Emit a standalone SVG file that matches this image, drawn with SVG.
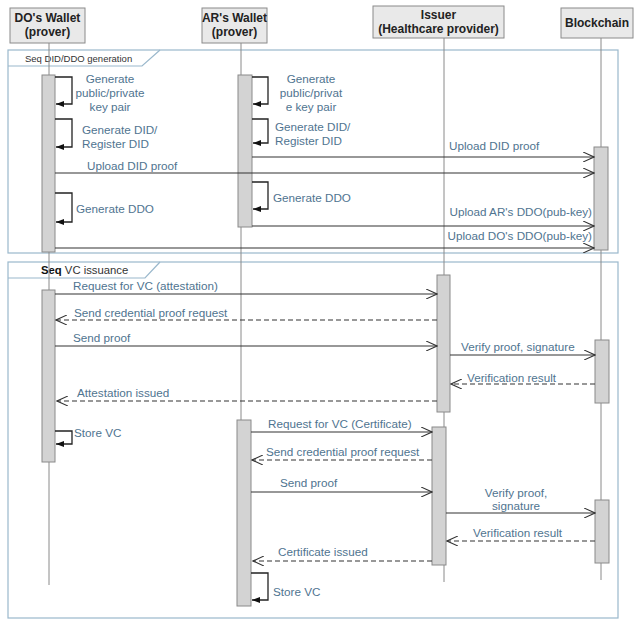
<svg xmlns="http://www.w3.org/2000/svg" width="636" height="620" viewBox="0 0 636 620">
<defs>
<style>
.hdr{fill:#e9e9e9;stroke:#8a8a8a;stroke-width:1}
.ht{font-family:"Liberation Sans",Arial,sans-serif;font-size:12px;font-weight:bold;fill:#222;text-anchor:middle}
.life{stroke:#8a8a8a;stroke-width:1}
.bar{fill:#d3d3d3;stroke:#8a8a8a;stroke-width:1}
.frame{fill:none;stroke:#9ab8cc;stroke-width:1.2}
.ft{font-family:"Liberation Sans",Arial,sans-serif;font-size:9.5px;fill:#333}
.ft2{font-family:"Liberation Sans",Arial,sans-serif;font-size:11.3px;fill:#333}
.m{font-family:"Liberation Sans",Arial,sans-serif;font-size:11.7px;fill:#4f7490}
.mc{font-family:"Liberation Sans",Arial,sans-serif;font-size:11.7px;fill:#4f7490;text-anchor:middle}
.me{font-family:"Liberation Sans",Arial,sans-serif;font-size:11.7px;fill:#4f7490;text-anchor:end}
.sync{stroke:#333;stroke-width:1.1;fill:none;marker-end:url(#open)}
.ret{stroke:#333;stroke-width:1.1;fill:none;stroke-dasharray:5,3;marker-end:url(#open)}
.self{stroke:#222;stroke-width:1.3;fill:none;marker-end:url(#fill)}
</style>
<marker id="open" viewBox="0 0 12 10" refX="11" refY="5" markerWidth="12" markerHeight="10" markerUnits="userSpaceOnUse" orient="auto">
<path d="M0,0 L11,5 L0,10" fill="none" stroke="#333" stroke-width="1.1"/>
</marker>
<marker id="fill" viewBox="0 0 8 6" refX="8" refY="3" markerWidth="8" markerHeight="6" markerUnits="userSpaceOnUse" orient="auto">
<path d="M0,0 L8,3 L0,6 z" fill="#111"/>
</marker>
</defs>

<!-- frames -->
<g id="frame-did">
<rect class="frame" x="8" y="50" width="610" height="203"/>
<path class="frame" d="M8,66 L142,66 L160,50"/>
<text class="ft" x="25" y="62">Seq DID/DDO generation</text>
</g>
<g id="frame-vc">
<rect class="frame" x="8" y="262" width="610" height="356"/>
<path class="frame" d="M8,278 L145,278 L160,262"/>
<text class="ft2" x="41" y="274"><tspan font-weight="bold" fill="#111">Seq</tspan> VC issuance</text>
</g>

<!-- lifelines -->
<g id="lifelines">
<line class="life" x1="49" y1="43" x2="49" y2="585"/>
<line class="life" x1="241" y1="43" x2="241" y2="606"/>
<line class="life" x1="444" y1="38" x2="444" y2="582"/>
<line class="life" x1="601" y1="38" x2="601" y2="580"/>
</g>

<!-- participants -->
<g id="do-wallet">
<rect class="hdr" x="10" y="8" width="75" height="35"/>
<text class="ht" x="47.5" y="22">DO's Wallet</text>
<text class="ht" x="47.5" y="36">(prover)</text>
</g>
<g id="ar-wallet">
<rect class="hdr" x="202" y="8" width="65" height="35"/>
<text class="ht" x="234.5" y="22">AR's Wallet</text>
<text class="ht" x="234.5" y="36">(prover)</text>
</g>
<g id="issuer">
<rect class="hdr" x="373" y="6" width="131" height="32"/>
<text class="ht" x="438.5" y="19">Issuer</text>
<text class="ht" x="438.5" y="33">(Healthcare provider)</text>
</g>
<g id="blockchain">
<rect class="hdr" x="561" y="8" width="72" height="30"/>
<text class="ht" x="597" y="27">Blockchain</text>
</g>

<!-- activation bars -->
<g id="activations">
<rect class="bar" x="42" y="75" width="13" height="177"/>
<rect class="bar" x="238" y="75" width="14" height="152"/>
<rect class="bar" x="594" y="147" width="14" height="103"/>
<rect class="bar" x="42" y="290" width="13" height="172"/>
<rect class="bar" x="437" y="275" width="13" height="137"/>
<rect class="bar" x="595" y="340" width="14" height="63"/>
<rect class="bar" x="237" y="420" width="14" height="186"/>
<rect class="bar" x="432" y="427" width="14" height="138"/>
<rect class="bar" x="595" y="500" width="14" height="63"/>
</g>

<!-- connectors -->
<g id="connectors">
<!-- frame 1 -->
<path class="self" d="M55,77 H72 V104 H56"/>
<path class="self" d="M55,119 H72 V147 H56"/>
<line class="sync" x1="55" y1="173" x2="594" y2="173"/>
<path class="self" d="M55,193 H72 V222 H56"/>
<line class="sync" x1="55" y1="248" x2="594" y2="248"/>
<path class="self" d="M252,77 H268 V104 H253"/>
<path class="self" d="M252,119 H268 V143 H253"/>
<line class="sync" x1="252" y1="157" x2="594" y2="157"/>
<path class="self" d="M252,182 H268 V209 H253"/>
<line class="sync" x1="252" y1="226" x2="594" y2="226"/>
<!-- frame 2 -->
<line class="sync" x1="55" y1="294" x2="437" y2="294"/>
<line class="ret" x1="437" y1="320" x2="56" y2="320"/>
<line class="sync" x1="55" y1="346" x2="437" y2="346"/>
<line class="sync" x1="450" y1="355" x2="595" y2="355"/>
<line class="ret" x1="595" y1="384" x2="451" y2="384"/>
<line class="ret" x1="437" y1="401" x2="57" y2="401"/>
<path class="self" d="M55,431 H72 V444 H56"/>
<line class="sync" x1="251" y1="432" x2="432" y2="432"/>
<line class="ret" x1="432" y1="460" x2="252" y2="460"/>
<line class="sync" x1="251" y1="492" x2="432" y2="492"/>
<line class="sync" x1="446" y1="513" x2="595" y2="513"/>
<line class="ret" x1="595" y1="541" x2="447" y2="541"/>
<line class="ret" x1="432" y1="561" x2="253" y2="561"/>
<path class="self" d="M251,573 H268 V600 H252"/>
</g>

<!-- message labels -->
<g id="labels">
<text class="mc" x="110" y="83">Generate</text>
<text class="mc" x="110" y="97">public/private</text>
<text class="mc" x="110" y="111">key pair</text>
<text class="m" x="82" y="134">Generate DID/</text>
<text class="m" x="82" y="148">Register DID</text>
<text class="m" x="87" y="170">Upload DID proof</text>
<text class="m" x="76" y="213">Generate DDO</text>
<text class="me" x="592" y="240">Upload DO's DDO(pub-key)</text>
<text class="mc" x="311" y="83">Generate</text>
<text class="mc" x="311" y="97">public/privat</text>
<text class="mc" x="311" y="111">e key pair</text>
<text class="m" x="275" y="131">Generate DID/</text>
<text class="m" x="275" y="145">Register DID</text>
<text class="m" x="449" y="150">Upload DID proof</text>
<text class="m" x="273" y="202">Generate DDO</text>
<text class="me" x="592" y="216">Upload AR's DDO(pub-key)</text>

<text class="m" x="73" y="290">Request for VC (attestation)</text>
<text class="m" x="74" y="317">Send credential proof request</text>
<text class="m" x="73" y="342">Send proof</text>
<text class="m" x="461" y="351">Verify proof, signature</text>
<text class="m" x="467" y="382">Verification result</text>
<text class="m" x="77" y="397">Attestation issued</text>
<text class="m" x="74" y="437">Store VC</text>
<text class="m" x="268" y="428">Request for VC (Certificate)</text>
<text class="m" x="266" y="456">Send credential proof request</text>
<text class="m" x="280" y="487">Send proof</text>
<text class="mc" x="516" y="497">Verify proof,</text>
<text class="mc" x="516" y="510">signature</text>
<text class="m" x="473" y="537">Verification result</text>
<text class="m" x="278" y="556">Certificate issued</text>
<text class="m" x="273" y="596">Store VC</text>
</g>
</svg>
